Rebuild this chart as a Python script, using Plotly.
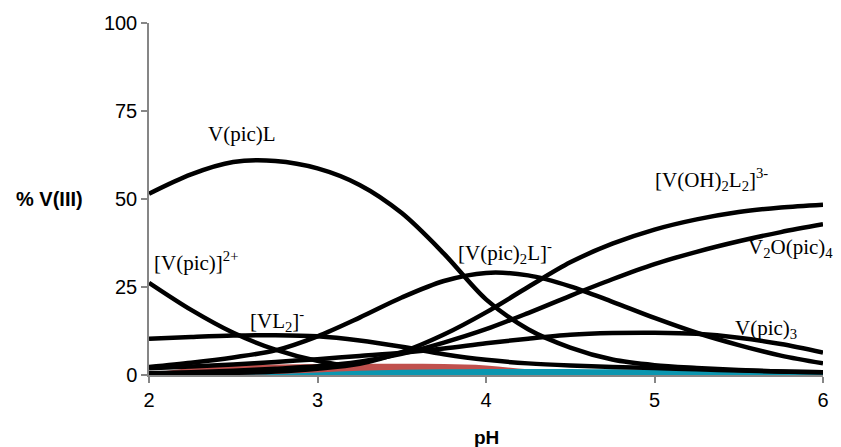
import plotly.graph_objects as go

# pH grid
ph = [2.0, 2.25, 2.5, 2.75, 3.0, 3.25, 3.5, 3.75, 4.0, 4.25, 4.5, 4.75, 5.0, 5.25, 5.5, 5.75, 6.0]

# species distribution (% V(III))
v_pic_L = [51.5, 57.0, 60.5, 60.8, 58.7, 54.0, 46.0, 34.5, 21.5, 13.0, 7.8, 4.4, 2.8, 2.0, 1.4, 1.0, 0.8]
v_pic_2plus = [26.2, 18.5, 12.0, 7.2, 4.0, 2.2, 1.0, 0.4, 0.1, 0.0, 0.0, 0.0, 0.0, 0.0, 0.0, 0.0, 0.0]
vl2_minus = [10.3, 10.8, 11.2, 11.3, 11.0, 9.8, 8.0, 5.9, 4.3, 3.3, 2.7, 2.3, 2.0, 1.6, 1.3, 1.0, 0.8]
v_pic2_L_minus = [2.3, 3.5, 5.0, 7.0, 11.0, 16.3, 22.0, 26.7, 29.0, 28.3, 25.2, 20.8, 16.2, 12.0, 8.5, 5.5, 3.3]
v_oh2_l2_3minus = [0.2, 0.35, 0.6, 1.0, 1.8, 3.2, 6.5, 11.5, 17.8, 25.0, 32.0, 37.3, 41.3, 44.2, 46.3, 47.6, 48.4]
v2o_pic4 = [0.5, 0.8, 1.2, 1.8, 2.5, 3.8, 6.0, 9.2, 13.0, 17.6, 22.5, 27.2, 31.5, 35.0, 38.0, 40.6, 42.8]
v_pic3 = [1.9, 2.4, 3.0, 3.7, 4.5, 5.4, 6.3, 7.5, 9.0, 10.3, 11.4, 11.9, 12.0, 11.7, 10.6, 8.8, 6.4]

# minor species shown as filled areas
minor_red = [0.5, 2.0, 2.8, 3.0, 3.1, 3.2, 3.2, 3.1, 2.7, 1.6, 0.8, 0.4, 0.2, 0.1, 0.05, 0.0, 0.0]
minor_teal = [0.0, 0.05, 0.1, 0.3, 0.7, 1.2, 1.5, 1.6, 1.7, 1.7, 1.7, 1.6, 1.5, 1.2, 0.8, 0.5, 0.3]

y_ticks = [0, 25, 50, 75, 100]
x_ticks = [2, 3, 4, 5, 6]

labels = [
    ("V(pic)L", 2.55, 68.5),
    ("[V(pic)]<sup>2+</sup>", 2.28, 32.3),
    ("[VL<sub>2</sub>]<sup>-</sup>", 2.76, 15.4),
    ("[V(pic)<sub>2</sub>L]<sup>-</sup>", 4.11, 34.8),
    ("[V(OH)<sub>2</sub>L<sub>2</sub>]<sup>3-</sup>", 5.34, 55.6),
    ("V<sub>2</sub>O(pic)<sub>4</sub>", 5.81, 36.0),
    ("V(pic)<sub>3</sub>", 5.66, 13.2),
]

black = dict(color="black", width=4.5, shape="spline", smoothing=0.9)

fig = go.Figure()

# [V(pic)]2+ sits behind the minor-species areas once it drops to zero
fig.add_trace(go.Scatter(x=ph, y=v_pic_2plus, mode="lines", line=black))

fig.add_trace(go.Scatter(x=ph, y=minor_red, mode="lines", line=dict(width=0, shape="spline"),
                         fill="tozeroy", fillcolor="#C0504D", hoverinfo="skip"))
fig.add_trace(go.Scatter(x=ph, y=minor_teal, mode="lines", line=dict(width=0, shape="spline"),
                         fill="tozeroy", fillcolor="#0B96B0", hoverinfo="skip"))

for series in [v_pic_L, vl2_minus, v_pic2_L_minus, v_oh2_l2_3minus, v2o_pic4, v_pic3]:
    fig.add_trace(go.Scatter(x=ph, y=series, mode="lines", line=black))

for text, x, y in labels:
    fig.add_annotation(x=x, y=y, text=text, showarrow=False,
                       font=dict(family="Liberation Serif", size=21, color="black"))

axis_font = dict(family="Liberation Sans", size=20, color="black")

fig.add_annotation(xref="paper", yref="paper", x=-0.201, y=0.5, text="<b>% V(III)</b>",
                   showarrow=False, xanchor="left",
                   font=dict(family="Liberation Sans", size=20, color="black"))
fig.add_annotation(xref="paper", yref="paper", x=0.5, y=-0.177, text="<b>pH</b>",
                   showarrow=False, yanchor="middle",
                   font=dict(family="Liberation Sans", size=19, color="black"))

fig.update_layout(
    width=841, height=447,
    margin=dict(l=149, r=13, t=19, b=72),
    paper_bgcolor="white", plot_bgcolor="white",
    showlegend=False,
    xaxis=dict(range=[2, 6], tickvals=x_ticks, showgrid=False, zeroline=False,
               showline=True, linecolor="#868686", linewidth=1.5,
               ticks="outside", ticklen=6, tickwidth=1.5, tickcolor="#868686",
               tickfont=axis_font),
    yaxis=dict(range=[0, 100], tickvals=y_ticks, showgrid=False, zeroline=False,
               showline=True, linecolor="#868686", linewidth=1.5,
               ticks="outside", ticklen=6, tickwidth=1.5, tickcolor="#868686",
               tickfont=axis_font),
)

fig.write_html("out.html", config={"displayModeBar": False},
               post_script="document.body.style.margin='0';document.body.style.overflow='hidden';")
